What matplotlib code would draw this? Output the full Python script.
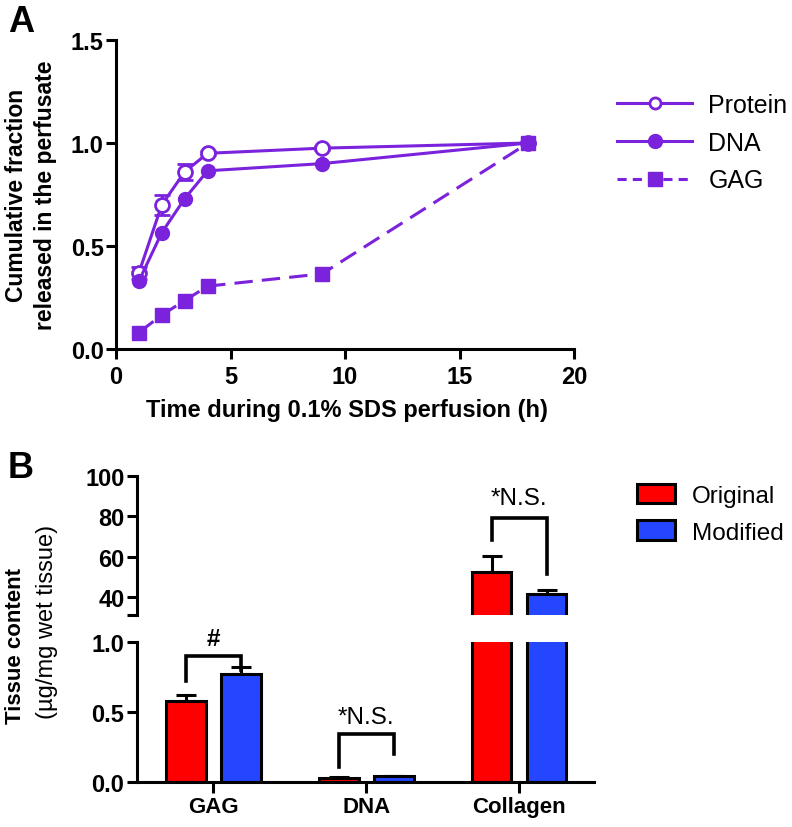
import numpy as np
import matplotlib.pyplot as plt
from matplotlib.patches import Patch
from matplotlib.lines import Line2D

plt.rcParams['font.family'] = ['Liberation Sans', 'DejaVu Sans']

# ---- panel A data ----
time_h = [1, 2, 3, 4, 9, 18]
protein = [0.37, 0.70, 0.86, 0.95, 0.975, 1.0]
protein_err = [0.03, 0.05, 0.04, 0.01, 0.01, 0.0]
dna = [0.33, 0.565, 0.73, 0.865, 0.90, 1.0]
gag = [0.08, 0.165, 0.235, 0.305, 0.365, 1.0]

# ---- panel B data ----
groups = ['GAG', 'DNA', 'Collagen']
original = [0.58, 0.03, 52.5]
original_err = [0.04, 0.005, 8.0]
modified = [0.77, 0.04, 41.5]
modified_err = [0.05, 0.005, 2.0]
sig_labels = ['#', '*N.S.', '*N.S.']

purple = '#7a22dc'
red = '#ff0000'
blue = '#2446ff'
LW = 2.2
FS = 17

fig = plt.figure(figsize=(7.92, 8.28), dpi=100)
W, H = 792.0, 828.0

def fx(px):
    return px / W

def fy(py):
    return 1 - py / H

def style_axis(ax):
    for s in ['top', 'right']:
        ax.spines[s].set_visible(False)
    for s in ['left', 'bottom']:
        ax.spines[s].set_linewidth(LW)
    ax.tick_params(width=LW, length=7.5, direction='out', labelsize=FS, pad=1.5)
    for lab in ax.get_xticklabels() + ax.get_yticklabels():
        lab.set_fontweight('bold')

# ================= A =================
axA = fig.add_axes([fx(116), fy(350), fx(574) - fx(116), fy(41) - fy(350)])
axA.errorbar(time_h, protein, yerr=protein_err, color=purple, lw=LW, marker='o',
             ms=10, mfc='white', mec=purple, mew=2, capsize=6, capthick=LW,
             elinewidth=LW, zorder=2)
axA.plot(time_h, dna, color=purple, lw=LW, marker='o', ms=10, zorder=3)
axA.plot(time_h, gag, color=purple, lw=LW, marker='s', ms=10, dashes=(6, 3), zorder=4)
axA.set_xlim(0, 20)
axA.set_ylim(0, 1.5)
axA.set_xticks([0, 5, 10, 15, 20])
axA.set_yticks([0.0, 0.5, 1.0, 1.5])
axA.yaxis.set_major_formatter(plt.FuncFormatter(lambda v, p: '%.1f' % v))
style_axis(axA)
axA.tick_params(axis='x', pad=4)

fig.text(fx(347), fy(411), 'Time during 0.1% SDS perfusion (h)', fontsize=17,
         fontweight='bold', ha='center', va='center')
fig.text(fx(17), fy(195), 'Cumulative fraction', rotation=90, fontsize=16.5,
         fontweight='bold', ha='center', va='center')
fig.text(fx(46), fy(195), 'released in the perfusate', rotation=90, fontsize=16.5,
         fontweight='bold', ha='center', va='center')

handlesA = [
    Line2D([], [], color=purple, lw=LW, marker='o', ms=8, mfc='white', mew=2),
    Line2D([], [], color=purple, lw=LW, marker='o', ms=10),
    Line2D([], [], color=purple, lw=LW, marker='s', ms=10, dashes=(3, 2)),
]
fig.legend(handlesA, ['Protein', 'DNA', 'GAG'], loc='upper left',
           bbox_to_anchor=(fx(617), fy(94)), frameon=False, fontsize=18,
           handlelength=3.0, labelspacing=0.55, handletextpad=0.65,
           borderpad=0, borderaxespad=0)

fig.text(fx(8), fy(32), 'A', fontsize=26, fontweight='bold')

# ================= B =================
x = np.arange(len(groups))
bw = 0.26
off = 0.18

axLo = fig.add_axes([fx(137), fy(783), fx(594) - fx(137), fy(643) - fy(783)])
axHi = fig.add_axes([fx(137), fy(616), fx(594) - fx(137), fy(477) - fy(616)])

for ax in (axLo, axHi):
    ax.bar(x - off, original, bw, color=red, edgecolor='black', lw=LW, zorder=2)
    ax.bar(x + off, modified, bw, color=blue, edgecolor='black', lw=LW, zorder=2)
    ax.errorbar(x - off, original, yerr=[np.zeros(3), original_err], fmt='none',
                ecolor='black', elinewidth=LW, capsize=7, capthick=LW, zorder=1)
    ax.errorbar(x + off, modified, yerr=[np.zeros(3), modified_err], fmt='none',
                ecolor='black', elinewidth=LW, capsize=7, capthick=LW, zorder=1)
    ax.set_xlim(-0.5, 2.49)

axLo.set_ylim(0, 1.0)
axLo.set_yticks([0.0, 0.5, 1.0])
axLo.yaxis.set_major_formatter(plt.FuncFormatter(lambda v, p: '%.1f' % v))
axLo.set_xticks(x)
axLo.set_xticklabels(groups)
style_axis(axLo)
axLo.tick_params(axis='x', length=8, pad=2, labelsize=16)

axHi.set_ylim(31, 100)
axHi.set_yticks([31, 40, 60, 80, 100])
axHi.set_yticklabels(['', '40', '60', '80', '100'])
axHi.set_xticks([])
style_axis(axHi)
axHi.spines['bottom'].set_visible(False)

# significance brackets (GAG, DNA on lower axis; collagen on upper)
brk = [
    (axLo, 0, 0.72, 0.90, 0.80, 0.04),
    (axLo, 1, 0.11, 0.34, 0.20, 0.045),
    (axHi, 2, 68, 79, 51.5, 4.5),
]
for (ax, i, yl, yt, yr, dy), lab in zip(brk, sig_labels):
    ax.plot([i - off, i - off, i + off, i + off], [yl, yt, yt, yr], color='black',
            lw=2.6, solid_joinstyle='miter', clip_on=False, zorder=3)
    ax.text(i, yt + dy, lab, ha='center', va='bottom', fontsize=17.5,
            fontweight='bold' if lab == '#' else 'normal', clip_on=False)

handlesB = [Patch(facecolor=red, edgecolor='black', lw=LW),
            Patch(facecolor=blue, edgecolor='black', lw=LW)]
fig.legend(handlesB, ['Original', 'Modified'], loc='upper left',
           bbox_to_anchor=(fx(637), fy(485)), frameon=False, fontsize=17.5,
           handlelength=1.55, handleheight=0.85, labelspacing=0.55,
           handletextpad=0.7, borderpad=0, borderaxespad=0)

fig.text(fx(16), fy(646), 'Tissue content', rotation=90, fontsize=16,
         fontweight='bold', ha='center', va='center')
fig.text(fx(47), fy(622), '(µg/mg wet tissue)', rotation=90, fontsize=17,
         ha='center', va='center')
fig.text(fx(8), fy(478), 'B', fontsize=26, fontweight='bold')

fig.savefig('out.png', dpi=100)
